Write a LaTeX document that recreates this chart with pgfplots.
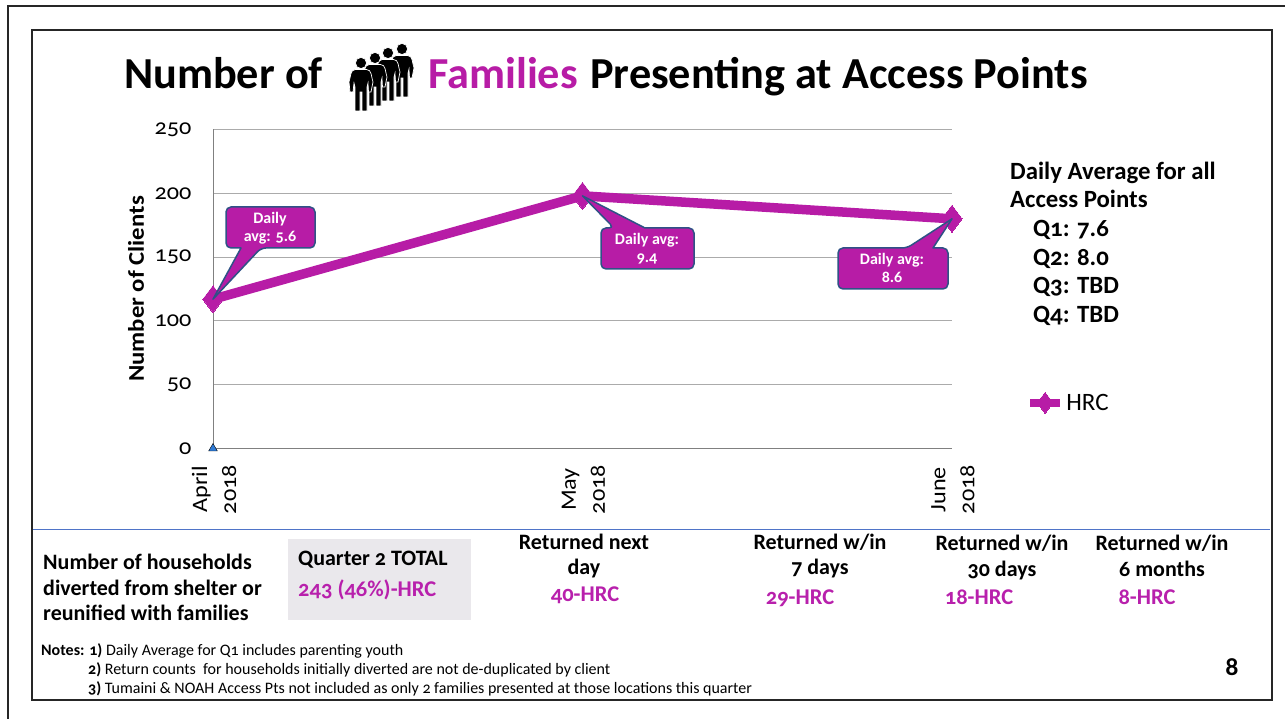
\documentclass[border=0pt]{standalone}
\usepackage{pgfplots}
\pgfplotsset{compat=1.18}
\usepackage{fontspec}
\setmainfont[Numbers=OldStyle]{Carlito}
\newfontfamily\wide[Numbers=OldStyle,FakeStretch=1.1]{Carlito}
\definecolor{fam}{HTML}{B71CA6}
\definecolor{famtext}{HTML}{B820AC}
\definecolor{calloutedge}{HTML}{2F5286}
\definecolor{rulecol}{HTML}{4F74C8}
\definecolor{boxfill}{HTML}{EAE8EC}
\definecolor{gridcol}{HTML}{ABABAB}
\definecolor{basemark}{HTML}{2E7BD6}
\newcommand{\fs}[1]{\fontsize{#1}{#1}\selectfont}
% one standing figure of the family icon, head centre at (#1,#2) in page units
\newcommand{\person}[2]{%
  \filldraw[black,draw=white,line width=0.7pt,shift={(#1,#2)}]
    (0,0) circle (5.6)
    (-5.5,6.5) -- (5.5,6.5) to[out=0,in=110] (12,19) -- (10,29) -- (7.5,29) -- (7,20)
    -- (6,24) -- (6,48) -- (1,48) -- (1,29) -- (-1,29) -- (-1,48) -- (-6,48) -- (-6,24)
    -- (-7,20) -- (-8,29) -- (-11,29) -- (-12,19) to[out=70,in=180] cycle;}
\begin{document}
\begin{tikzpicture}
\path[use as bounding box] (0,0) rectangle (1285pt,719pt);
\fill[white] (0,0) rectangle (1285pt,719pt);
\begin{axis}[
  at={(213pt,270.5pt)}, anchor=origin,
  scale only axis, width=739pt, height=319pt,
  xmin=0, xmax=2, ymin=0, ymax=250,
  clip=false,
  axis x line=bottom, axis y line=left,
  axis line style={-, draw=gray, line width=1pt},
  xtick={0,1,2}, ytick={0,50,100,150,200,250},
  xticklabels={{April\\2018},{May\\2018},{June\\2018}},
  major tick length=0pt,
  ymajorgrids, grid style={gridcol, line width=1.1pt},
  yticklabel style={font=\wide\fs{22}, /pgf/number format/assume math mode=true, xshift=-18pt},
  xticklabel style={font=\wide\fontsize{22}{29}\selectfont, rotate=90, anchor=east, align=center, xshift=-13pt, yshift=-1pt},
  every axis y label/.style={at={(axis description cs:-0.104,0.5)}, rotate=90, anchor=center},
  ylabel={\bfseries\wide\fs{22.5}Number of Clients},
  legend style={at={(axis cs:2.2,35.7)}, anchor=west, draw=none, fill=none,
    font=\fs{25}, inner sep=0pt, outer sep=0pt},
  legend cell align=left,
  legend image code/.code={\draw[#1, mark repeat=2, mark phase=2, line width=8.5pt, mark size=10.5pt,
      mark options={line width=0pt}]
    plot coordinates {(0pt,0pt)(15pt,0pt)(30pt,0pt)};},
]
\addplot[fam, line width=9.5pt, line join=round, mark=diamond*,
  mark size=13.5pt, mark options={fill=fam, draw=fam, line width=0pt}]
  coordinates {(0,117) (1,198) (2,180)};
\addlegendentry{HRC}
\addplot[forget plot, only marks, mark=triangle*, mark size=5pt,
  mark options={fill=basemark, draw=none}] coordinates {(0,0)};
\coordinate (apr) at (axis cs:0,117);
\coordinate (may) at (axis cs:1,198);
\coordinate (jun) at (axis cs:2,180);
\end{axis}
\begin{scope}[x=1pt,y=-1pt,yshift=719pt]
% slide frames
\draw[black!85!white,line width=2.6pt] (8,721) -- (8,6) -- (1287,6);
\draw[black!85!white,line width=1.6pt] (32,30) rectangle (1272,700);
\draw[rulecol,line width=1.2pt] (33,529.5) -- (1270,529.5);
\fill[boxfill] (288,539) rectangle (471,620);
% title
\node[anchor=base west,inner sep=0pt] at (124,88.5) {\bfseries\fs{44.3}Number of};
\node[anchor=base west,inner sep=0pt] at (428,88.5) {\bfseries\fs{44.3}\color{fam}Families};
\node[anchor=base west,inner sep=0pt] at (590,88.5) {\bfseries\fs{44.3}Presenting at Access Points};
% icon, rear figures first
\person{402}{49}
\person{388}{53}
\person{375}{58}
\person{361}{63}
% callouts
\draw[fill=fam,draw=calloutedge,line width=1.5pt,line join=round,rounded corners=5pt]
  (226,207) -- (315,207) -- (315,248) -- (261,248)
  [sharp corners] -- (apr) -- (241,248) [rounded corners=5pt] -- (226,248) -- cycle;
\draw[fill=fam,draw=calloutedge,line width=1.5pt,line join=round,rounded corners=5pt]
  (601,228) -- (614,228) [sharp corners] -- (may) -- (645,228) [rounded corners=5pt]
  -- (694,228) -- (694,269) -- (601,269) -- cycle;
\draw[fill=fam,draw=calloutedge,line width=1.5pt,line join=round,rounded corners=5pt]
  (838,248) -- (907,248) [sharp corners] -- (jun) -- (933,248) [rounded corners=5pt]
  -- (948,248) -- (948,289) -- (838,289) -- cycle;
\node[white,align=center,font=\bfseries\fs{16},inner sep=0pt] at (270,228)
  {Daily\\[2pt]avg: 5.6};
\node[white,align=center,font=\bfseries\fs{16},inner sep=0pt] at (647,249)
  {Daily avg:\\[2pt]9.4};
\node[white,align=center,font=\bfseries\fs{16},inner sep=0pt] at (892,268)
  {Daily avg:\\[2pt]8.6};
% quarterly daily averages
\begin{scope}[every node/.style={anchor=base west,inner sep=0pt,font=\bfseries\fs{24.8}}]
\node at (1010,180) {Daily Average for all};
\node at (1010,208) {Access Points};
\node at (1033,237) {Q1: 7.6};
\node at (1033,266) {Q2: 8.0};
\node at (1033,294) {Q3: TBD};
\node at (1033,323) {Q4: TBD};
\end{scope}
% diversion summary
\begin{scope}[shift={(0,1)},every node/.style={anchor=base west,inner sep=0pt,font=\bfseries\fs{22}}]
\node at (43,569) {Number of households};
\node at (43,595) {diverted from shelter or};
\node at (43,620) {reunified with families};
\node at (298,565) {Quarter 2 TOTAL};
\node[text=famtext,font=\bfseries\fs{22.5}] at (298,596) {243 (46\%)-HRC};
\end{scope}
\begin{scope}[shift={(0,1)},every node/.style={anchor=base,inner sep=0pt,font=\bfseries\fs{22}}]
\node at (584,549) {Returned next};
\node at (584,574) {day};
\node[text=famtext,font=\bfseries\fs{22.5}] at (585,601) {40-HRC};
\node at (820,549) {Returned w/in};
\node at (820,574) {7 days};
\node[text=famtext,font=\bfseries\fs{22.5}] at (800,604) {29-HRC};
\node at (1002,550) {Returned w/in};
\node at (1002,576) {30 days};
\node[text=famtext,font=\bfseries\fs{22.5}] at (979,604) {18-HRC};
\node at (1162,550) {Returned w/in};
\node at (1162,576) {6 months};
\node[text=famtext,font=\bfseries\fs{22.5}] at (1147,604) {8-HRC};
\end{scope}
% footnotes
\begin{scope}[shift={(0,1.5)},every node/.style={anchor=base west,inner sep=0pt,font=\fs{16}}]
\node at (41,654) {\textbf{Notes: 1)} Daily Average for Q1 includes parenting youth};
\node at (88,673) {\textbf{2)} Return counts\ \ for households initially diverted are not de-duplicated by client};
\node at (88,692) {\textbf{3)} Tumaini \& NOAH Access Pts not included as only 2 families presented at those locations this quarter};
\end{scope}
\node[anchor=base,inner sep=0pt,font=\bfseries\fs{26}] at (1232,676) {8};
\end{scope}
\end{tikzpicture}
\end{document}
